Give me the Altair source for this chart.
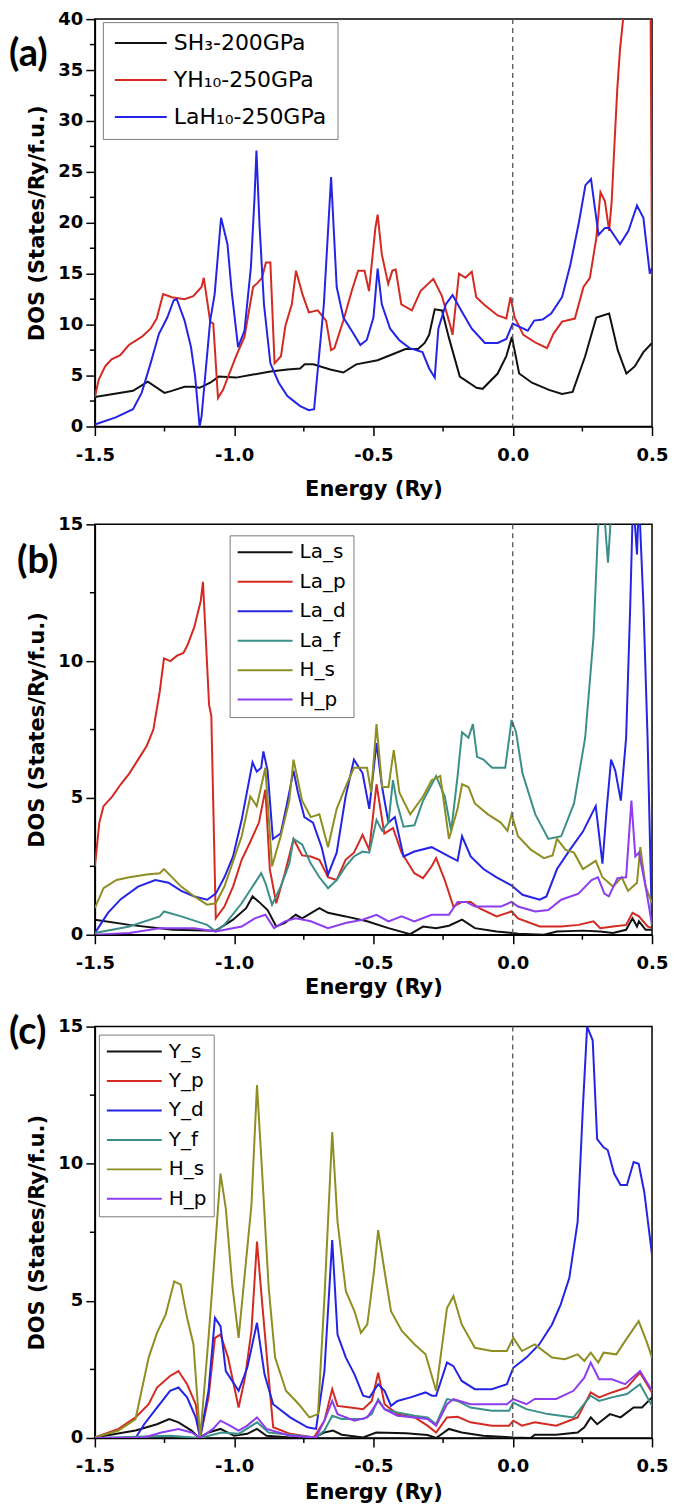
import altair as alt
import pandas as pd

FONT = "DejaVu Sans"

# ---------------- axis ticks ----------------
energy_major = [-1.5, -1.0, -0.5, 0.0, 0.5]
energy_minor = [-1.25, -0.75, -0.25, 0.25]
dos_major_a = [0, 5, 10, 15, 20, 25, 30, 35, 40]
dos_minor_a = [2.5, 7.5, 12.5, 17.5, 22.5, 27.5, 32.5, 37.5]
dos_major_bc = [0, 5, 10, 15]
dos_minor_bc = [2.5, 7.5, 12.5]

# ---------------- panel (a) ----------------
names_a = ["SH\u2083-200GPa", "YH\u2081\u2080-250GPa", "LaH\u2081\u2080-250GPa"]
colors_a = ["#111111", "#d42a22", "#2424e6"]
SH3 = [(-1.5, 2.9), (-1.363, 3.5), (-1.31, 4.4), (-1.25, 3.3), (-1.224, 3.5), (-1.178, 3.9), (-1.147, 3.9),
       (-1.124, 3.8), (-1.086, 4.3), (-1.055, 4.9), (-0.993, 4.8), (-0.932, 5.1), (-0.87, 5.4), (-0.809, 5.6),
       (-0.763, 5.7), (-0.747, 6.1), (-0.716, 6.1), (-0.655, 5.6), (-0.608, 5.3), (-0.562, 6.1), (-0.485, 6.5),
       (-0.44, 7.0), (-0.385, 7.6), (-0.34, 7.6), (-0.316, 8.2), (-0.30, 9.0), (-0.28, 11.5), (-0.254, 11.4),
       (-0.23, 8.8), (-0.19, 4.9), (-0.13, 3.8), (-0.108, 3.7), (-0.054, 5.2), (-0.023, 6.9), (-0.003, 8.8),
       (0.023, 5.2), (0.069, 4.3), (0.13, 3.6), (0.177, 3.2), (0.215, 3.4), (0.26, 6.9), (0.30, 10.7),
       (0.346, 11.1), (0.377, 7.5), (0.408, 5.2), (0.438, 5.9), (0.469, 7.3), (0.5, 8.2)]
YH10 = [(-1.5, 2.9), (-1.486, 4.6), (-1.463, 5.9), (-1.44, 6.6), (-1.409, 7.0), (-1.378, 8.0), (-1.332, 8.8),
        (-1.30, 9.6), (-1.278, 10.6), (-1.255, 13.0), (-1.224, 12.7), (-1.178, 12.5), (-1.147, 12.8),
        (-1.117, 13.7), (-1.109, 14.6), (-1.086, 10.3), (-1.075, 10.1), (-1.058, 2.8), (-1.04, 3.6),
        (-0.993, 6.9), (-0.963, 8.8), (-0.932, 13.7), (-0.916, 14.1), (-0.90, 14.6), (-0.886, 16.1),
        (-0.87, 16.1), (-0.855, 6.2), (-0.832, 6.9), (-0.816, 9.9), (-0.793, 12.0), (-0.778, 15.3),
        (-0.755, 13.0), (-0.732, 11.2), (-0.70, 11.4), (-0.67, 10.4), (-0.652, 7.5), (-0.64, 7.7),
        (-0.608, 10.4), (-0.578, 13.3), (-0.555, 15.3), (-0.532, 15.3), (-0.516, 13.3), (-0.493, 19.5),
        (-0.485, 20.8), (-0.47, 16.9), (-0.447, 14.0), (-0.432, 15.3), (-0.42, 15.4), (-0.40, 12.0),
        (-0.362, 11.4), (-0.331, 13.3), (-0.285, 14.5), (-0.254, 12.8), (-0.224, 9.9), (-0.216, 9.0),
        (-0.193, 15.0), (-0.17, 14.6), (-0.147, 15.2), (-0.131, 12.7), (-0.10, 11.9), (-0.054, 10.9),
        (-0.023, 10.6), (-0.008, 12.7), (0.007, 10.7), (0.038, 9.0), (0.084, 8.2), (0.123, 7.7),
        (0.146, 9.1), (0.177, 10.3), (0.223, 10.6), (0.254, 13.7), (0.277, 14.6), (0.30, 18.5),
        (0.315, 23.0), (0.331, 22.1), (0.346, 19.2), (0.355, 22.0), (0.362, 26.0), (0.375, 33.0),
        (0.385, 37.0), (0.40, 41.0), (0.45, 45.0), (0.494, 45.0), (0.5, 14.7)]
LaH10 = [(-1.5, 0.2), (-1.425, 0.9), (-1.363, 1.7), (-1.332, 3.3), (-1.30, 6.2), (-1.27, 9.1), (-1.24, 10.7),
         (-1.217, 12.4), (-1.206, 12.5), (-1.178, 10.4), (-1.155, 7.8), (-1.14, 4.9), (-1.124, 0.0),
         (-1.117, 1.0), (-1.086, 10.4), (-1.07, 13.0), (-1.047, 20.5), (-1.024, 17.9), (-1.009, 13.3),
         (-0.986, 7.8), (-0.963, 9.4), (-0.94, 15.6), (-0.927, 22.4), (-0.92, 27.1), (-0.909, 19.8),
         (-0.893, 12.0), (-0.87, 6.2), (-0.84, 4.3), (-0.809, 3.0), (-0.763, 2.0), (-0.732, 1.6),
         (-0.713, 1.7), (-0.678, 12.0), (-0.652, 24.5), (-0.632, 13.7), (-0.608, 10.7), (-0.578, 9.4),
         (-0.547, 8.0), (-0.524, 8.5), (-0.50, 10.7), (-0.485, 15.5), (-0.47, 12.0), (-0.44, 9.6),
         (-0.408, 8.5), (-0.37, 7.7), (-0.324, 7.3), (-0.30, 5.7), (-0.28, 4.8), (-0.267, 9.6),
         (-0.24, 12.0), (-0.216, 12.9), (-0.185, 11.4), (-0.147, 9.6), (-0.10, 8.2), (-0.054, 8.2),
         (-0.023, 8.6), (0.0, 10.1), (0.023, 9.8), (0.054, 9.4), (0.077, 10.4), (0.107, 10.5),
         (0.138, 11.1), (0.177, 12.7), (0.207, 15.9), (0.238, 20.1), (0.261, 23.7), (0.281, 24.3),
         (0.308, 18.8), (0.331, 19.5), (0.346, 19.5), (0.385, 17.9), (0.415, 19.2), (0.446, 21.7),
         (0.469, 20.5), (0.492, 15.0), (0.5, 15.6)]

# ---------------- panel (b) ----------------
names_b = ["La_s", "La_p", "La_d", "La_f", "H_s", "H_p"]
colors_pdos = ["#111111", "#d42a22", "#2424e6", "#3a9088", "#8e8e22", "#8d3cf0"]
La_s = [(-1.5, 0.55), (-1.376, 0.36), (-1.221, 0.18), (-1.066, 0.15), (-1.004, 0.55), (-0.957, 0.97),
        (-0.934, 1.4), (-0.911, 1.2), (-0.88, 0.9), (-0.849, 0.3), (-0.818, 0.43), (-0.779, 0.73),
        (-0.756, 0.6), (-0.694, 0.97), (-0.663, 0.8), (-0.60, 0.67), (-0.523, 0.49), (-0.446, 0.24),
        (-0.368, 0.02), (-0.322, 0.3), (-0.275, 0.24), (-0.229, 0.33), (-0.182, 0.55), (-0.136, 0.24),
        (-0.058, 0.12), (0.019, 0.04), (0.112, 0.0), (0.159, 0.12), (0.252, 0.15), (0.314, 0.12),
        (0.36, 0.06), (0.407, 0.18), (0.43, 0.6), (0.446, 0.3), (0.453, 0.49), (0.477, 0.18), (0.5, 0.18)]
La_p = [(-1.5, 2.5), (-1.484, 4.1), (-1.469, 4.7), (-1.438, 5.05), (-1.407, 5.5), (-1.376, 5.9),
        (-1.345, 6.4), (-1.314, 6.9), (-1.29, 7.5), (-1.267, 8.9), (-1.252, 10.1), (-1.229, 10.0),
        (-1.205, 10.2), (-1.182, 10.3), (-1.167, 10.6), (-1.143, 11.25), (-1.12, 12.2), (-1.112, 12.9),
        (-1.09, 8.4), (-1.082, 8.0), (-1.066, 0.6), (-1.035, 1.03), (-1.004, 1.76), (-0.973, 2.74),
        (-0.942, 3.4), (-0.911, 4.1), (-0.888, 5.3), (-0.872, 2.4), (-0.849, 1.15), (-0.818, 2.25),
        (-0.787, 3.5), (-0.756, 2.9), (-0.725, 2.86), (-0.694, 2.74), (-0.663, 2.1), (-0.632, 2.0),
        (-0.60, 2.74), (-0.57, 3.0), (-0.539, 3.65), (-0.515, 3.1), (-0.489, 5.5), (-0.461, 3.7),
        (-0.43, 3.9), (-0.399, 3.0), (-0.353, 2.25), (-0.322, 2.07), (-0.291, 2.5), (-0.275, 2.8),
        (-0.244, 2.0), (-0.213, 1.03), (-0.182, 1.2), (-0.151, 1.2), (-0.12, 0.97), (-0.058, 0.67),
        (-0.004, 0.85), (0.019, 0.6), (0.097, 0.3), (0.174, 0.3), (0.236, 0.36), (0.29, 0.49),
        (0.314, 0.24), (0.36, 0.3), (0.407, 0.36), (0.43, 0.8), (0.453, 0.67), (0.484, 0.3), (0.5, 0.24)]
La_d = [(-1.5, 0.06), (-1.453, 0.8), (-1.407, 1.3), (-1.345, 1.76), (-1.283, 2.0), (-1.236, 1.9),
        (-1.19, 1.6), (-1.143, 1.4), (-1.097, 1.28), (-1.066, 1.5), (-1.035, 2.1), (-1.004, 2.86),
        (-0.973, 4.2), (-0.934, 6.3), (-0.919, 5.96), (-0.903, 6.1), (-0.895, 6.7), (-0.88, 6.0),
        (-0.861, 3.5), (-0.833, 3.7), (-0.81, 4.8), (-0.787, 6.0), (-0.771, 5.2), (-0.748, 4.3),
        (-0.717, 4.1), (-0.686, 3.2), (-0.663, 2.2), (-0.632, 3.0), (-0.60, 5.05), (-0.57, 6.4),
        (-0.539, 5.9), (-0.515, 4.6), (-0.489, 7.0), (-0.469, 5.4), (-0.446, 4.1), (-0.423, 4.3),
        (-0.392, 2.86), (-0.353, 3.04), (-0.291, 3.2), (-0.229, 2.86), (-0.198, 2.7), (-0.182, 3.6),
        (-0.151, 2.86), (-0.105, 2.4), (-0.058, 2.1), (-0.004, 1.8), (0.035, 1.46), (0.097, 1.28),
        (0.121, 1.4), (0.159, 2.4), (0.205, 3.1), (0.252, 3.77), (0.283, 4.4), (0.298, 4.7),
        (0.322, 2.6), (0.337, 4.56), (0.353, 6.4), (0.368, 6.0), (0.388, 4.9), (0.407, 7.2),
        (0.422, 12.1), (0.432, 16.0), (0.446, 13.9), (0.453, 16.0), (0.469, 12.1), (0.484, 7.2), (0.5, 0.18)]
La_f = [(-1.5, 0.06), (-1.376, 0.3), (-1.267, 0.67), (-1.252, 0.85), (-1.19, 0.67), (-1.097, 0.36),
        (-1.066, 0.12), (-1.035, 0.36), (-0.973, 1.15), (-0.934, 1.76), (-0.903, 2.25), (-0.888, 1.9),
        (-0.864, 1.1), (-0.833, 1.76), (-0.802, 2.6), (-0.787, 3.5), (-0.756, 3.3), (-0.725, 2.6),
        (-0.694, 2.1), (-0.663, 1.7), (-0.632, 2.0), (-0.60, 2.5), (-0.57, 2.86), (-0.539, 3.04),
        (-0.515, 3.0), (-0.489, 4.2), (-0.469, 3.8), (-0.446, 4.1), (-0.43, 5.65), (-0.415, 4.8),
        (-0.392, 3.95), (-0.353, 4.0), (-0.322, 4.9), (-0.275, 5.8), (-0.244, 5.05), (-0.221, 3.8),
        (-0.198, 5.8), (-0.182, 7.4), (-0.159, 7.2), (-0.143, 7.7), (-0.128, 6.5), (-0.105, 6.4),
        (-0.074, 6.1), (-0.027, 6.1), (-0.004, 7.85), (0.012, 7.4), (0.035, 5.9), (0.081, 4.4),
        (0.128, 3.5), (0.174, 3.6), (0.22, 4.8), (0.26, 7.2), (0.29, 10.9), (0.306, 14.8),
        (0.322, 16.5), (0.335, 14.5), (0.342, 13.6), (0.36, 16.5), (0.5, 17.0)]
H_s_b = [(-1.5, 0.97), (-1.469, 1.7), (-1.422, 2.0), (-1.376, 2.1), (-1.314, 2.2), (-1.267, 2.25),
         (-1.252, 2.4), (-1.19, 1.76), (-1.143, 1.4), (-1.097, 1.1), (-1.066, 1.15), (-1.035, 1.76),
         (-0.973, 3.6), (-0.942, 5.05), (-0.919, 4.7), (-0.888, 6.1), (-0.864, 2.5), (-0.833, 3.6),
         (-0.802, 4.9), (-0.787, 6.4), (-0.756, 4.9), (-0.725, 4.3), (-0.694, 4.4), (-0.663, 3.2),
         (-0.632, 4.6), (-0.60, 5.4), (-0.57, 6.1), (-0.523, 6.1), (-0.508, 5.2), (-0.489, 7.7),
         (-0.469, 5.4), (-0.446, 5.4), (-0.427, 6.75), (-0.407, 5.2), (-0.368, 4.4), (-0.322, 5.05),
         (-0.291, 5.65), (-0.26, 5.8), (-0.229, 3.5), (-0.198, 4.6), (-0.182, 5.5), (-0.159, 5.4),
         (-0.136, 4.8), (-0.089, 4.4), (-0.043, 4.1), (-0.019, 3.8), (-0.004, 4.4), (0.019, 3.6),
         (0.066, 3.1), (0.112, 2.8), (0.143, 2.9), (0.159, 3.5), (0.19, 3.1), (0.22, 3.0), (0.252, 2.4),
         (0.298, 2.7), (0.322, 2.1), (0.36, 1.76), (0.391, 2.1), (0.414, 1.6), (0.446, 1.9),
         (0.458, 3.2), (0.477, 1.76), (0.5, 1.15)]
H_p_b = [(-1.5, 0.0), (-1.376, 0.06), (-1.267, 0.24), (-1.143, 0.24), (-1.066, 0.12), (-0.973, 0.3),
         (-0.926, 0.6), (-0.888, 0.73), (-0.857, 0.24), (-0.818, 0.49), (-0.779, 0.6), (-0.725, 0.49),
         (-0.663, 0.24), (-0.60, 0.43), (-0.539, 0.55), (-0.489, 0.73), (-0.446, 0.49), (-0.399, 0.67),
         (-0.353, 0.49), (-0.291, 0.73), (-0.229, 0.73), (-0.198, 1.2), (-0.167, 1.2), (-0.136, 1.03),
         (-0.089, 1.03), (-0.043, 1.03), (-0.004, 1.2), (0.019, 1.03), (0.081, 0.85), (0.128, 0.9),
         (0.174, 1.28), (0.236, 1.5), (0.283, 2.0), (0.306, 2.1), (0.329, 1.5), (0.345, 1.4),
         (0.376, 2.07), (0.407, 2.1), (0.426, 4.9), (0.44, 2.86), (0.453, 3.0), (0.477, 1.76), (0.5, 0.36)]

# ---------------- panel (c) ----------------
names_c = ["Y_s", "Y_p", "Y_d", "Y_f", "H_s", "H_p"]
Y_s = [(-1.5, 0.02), (-1.354, 0.27), (-1.277, 0.5), (-1.233, 0.69), (-1.2, 0.57), (-1.153, 0.27),
       (-1.126, 0.0), (-1.092, 0.2), (-1.049, 0.33), (-1.0, 0.08), (-0.953, 0.15), (-0.918, 0.33),
       (-0.884, 0.08), (-0.799, 0.02), (-0.714, 0.0), (-0.676, 0.2), (-0.645, 0.27), (-0.614, 0.12),
       (-0.537, 0.02), (-0.49, 0.2), (-0.383, 0.17), (-0.306, 0.11), (-0.275, 0.0), (-0.229, 0.33),
       (-0.183, 0.2), (-0.106, 0.08), (0.002, 0.02), (0.064, 0.0), (0.079, 0.12), (0.156, 0.12),
       (0.233, 0.2), (0.257, 0.39), (0.28, 0.75), (0.303, 0.5), (0.349, 0.87), (0.387, 0.75),
       (0.434, 1.11), (0.464, 1.11), (0.5, 1.48)]
Y_p = [(-1.5, 0.02), (-1.415, 0.33), (-1.354, 0.75), (-1.307, 1.23), (-1.277, 1.84), (-1.23, 2.26),
       (-1.2, 2.44), (-1.169, 1.96), (-1.138, 1.23), (-1.122, 0.02), (-1.092, 1.48), (-1.069, 3.65),
       (-1.049, 3.77), (-1.022, 2.93), (-0.984, 1.11), (-0.961, 2.2), (-0.938, 3.9), (-0.918, 7.16),
       (-0.899, 4.86), (-0.876, 2.2), (-0.86, 0.39), (-0.799, 0.15), (-0.714, 0.02), (-0.676, 0.63),
       (-0.648, 1.78), (-0.629, 1.17), (-0.583, 1.11), (-0.537, 1.05), (-0.506, 1.35), (-0.483, 2.38),
       (-0.46, 1.23), (-0.414, 0.87), (-0.352, 0.75), (-0.306, 0.45), (-0.275, 0.2), (-0.236, 0.75),
       (-0.198, 0.77), (-0.152, 0.57), (-0.075, 0.45), (-0.013, 0.45), (0.002, 0.63), (0.033, 0.45),
       (0.079, 0.57), (0.156, 0.45), (0.233, 0.75), (0.28, 1.66), (0.31, 1.48), (0.356, 1.66),
       (0.41, 1.84), (0.457, 2.38), (0.5, 1.66)]
Y_d = [(-1.5, 0.0), (-1.354, 0.0), (-1.323, 0.5), (-1.277, 1.11), (-1.23, 1.72), (-1.2, 1.84),
       (-1.169, 1.48), (-1.138, 0.75), (-1.122, 0.0), (-1.092, 1.72), (-1.069, 4.38), (-1.049, 4.08),
       (-1.03, 2.44), (-0.984, 1.72), (-0.953, 2.56), (-0.918, 4.2), (-0.891, 2.32), (-0.86, 1.23),
       (-0.799, 0.75), (-0.737, 0.39), (-0.706, 0.33), (-0.676, 2.44), (-0.648, 7.22), (-0.629, 3.77),
       (-0.599, 2.93), (-0.568, 2.32), (-0.537, 1.54), (-0.514, 1.48), (-0.483, 1.96), (-0.46, 1.72),
       (-0.437, 1.17), (-0.414, 1.35), (-0.367, 1.48), (-0.313, 1.66), (-0.29, 1.54), (-0.275, 1.54),
       (-0.236, 2.75), (-0.213, 2.62), (-0.183, 2.08), (-0.136, 1.78), (-0.075, 1.78), (-0.021, 1.96),
       (0.002, 2.56), (0.049, 2.93), (0.095, 3.41), (0.141, 4.14), (0.172, 4.86), (0.203, 5.83),
       (0.233, 7.89), (0.252, 12.1), (0.267, 15.0), (0.287, 14.5), (0.303, 10.9), (0.326, 10.6),
       (0.341, 10.5), (0.364, 9.64), (0.387, 9.22), (0.41, 9.22), (0.434, 10.06), (0.452, 10.0),
       (0.472, 8.98), (0.5, 6.68)]
Y_f = [(-1.5, 0.0), (-1.23, 0.08), (-1.122, 0.0), (-1.045, 0.2), (-0.984, 0.15), (-0.918, 0.57),
       (-0.876, 0.2), (-0.768, 0.08), (-0.706, 0.02), (-0.676, 0.27), (-0.648, 0.81), (-0.614, 0.69),
       (-0.537, 0.69), (-0.506, 0.87), (-0.483, 1.42), (-0.46, 1.05), (-0.414, 0.93), (-0.352, 0.81),
       (-0.306, 0.75), (-0.275, 0.5), (-0.236, 1.42), (-0.198, 1.35), (-0.152, 1.11), (-0.075, 0.99),
       (-0.013, 0.99), (0.002, 1.29), (0.049, 1.05), (0.126, 0.87), (0.218, 0.75), (0.28, 1.54),
       (0.31, 1.35), (0.356, 1.48), (0.41, 1.6), (0.457, 1.96), (0.5, 1.17)]
H_s_c = [(-1.5, 0.02), (-1.415, 0.27), (-1.354, 0.69), (-1.307, 2.93), (-1.277, 3.83), (-1.246, 4.5),
         (-1.215, 5.71), (-1.192, 5.59), (-1.169, 4.38), (-1.146, 3.41), (-1.122, 0.0), (-1.092, 3.65),
         (-1.076, 5.83), (-1.049, 9.64), (-1.03, 8.37), (-1.007, 5.59), (-0.984, 3.65), (-0.961, 6.07),
         (-0.938, 8.49), (-0.918, 12.87), (-0.899, 9.58), (-0.876, 5.47), (-0.853, 2.93), (-0.814, 1.72),
         (-0.768, 1.23), (-0.73, 0.75), (-0.699, 0.87), (-0.676, 5.1), (-0.648, 11.15), (-0.629, 7.89),
         (-0.599, 5.35), (-0.568, 4.62), (-0.545, 3.83), (-0.522, 4.14), (-0.498, 6.07), (-0.483, 7.58),
         (-0.46, 6.07), (-0.437, 4.62), (-0.398, 3.9), (-0.352, 3.41), (-0.313, 3.05), (-0.275, 1.72),
         (-0.236, 4.74), (-0.213, 5.17), (-0.183, 4.14), (-0.136, 3.29), (-0.075, 3.17), (-0.021, 3.17),
         (0.002, 3.65), (0.033, 3.17), (0.079, 3.41), (0.141, 2.93), (0.187, 2.87), (0.233, 3.05),
         (0.257, 2.81), (0.28, 3.11), (0.307, 2.75), (0.326, 3.11), (0.372, 3.05), (0.403, 3.53),
         (0.452, 4.26), (0.48, 3.53), (0.5, 2.93)]
H_p_c = [(-1.5, 0.0), (-1.323, 0.02), (-1.261, 0.2), (-1.2, 0.33), (-1.153, 0.2), (-1.122, 0.0),
         (-1.076, 0.33), (-1.049, 0.63), (-1.015, 0.45), (-0.984, 0.27), (-0.953, 0.45), (-0.918, 0.75),
         (-0.884, 0.33), (-0.799, 0.08), (-0.706, 0.02), (-0.676, 0.63), (-0.648, 1.35), (-0.629, 0.87),
         (-0.568, 0.63), (-0.522, 0.75), (-0.483, 1.35), (-0.46, 1.05), (-0.414, 0.81), (-0.352, 0.75),
         (-0.306, 0.69), (-0.275, 0.45), (-0.236, 1.23), (-0.213, 1.42), (-0.152, 1.23), (-0.075, 1.23),
         (-0.021, 1.23), (0.002, 1.42), (0.049, 1.23), (0.079, 1.42), (0.156, 1.42), (0.218, 1.72),
         (0.257, 2.2), (0.28, 2.75), (0.31, 2.14), (0.356, 2.14), (0.403, 1.96), (0.457, 2.44), (0.5, 1.72)]

WIDTH = 558


def to_frame(names, series_list):
    rows = []
    for name, pts in zip(names, series_list):
        for e, d in pts:
            rows.append({"E": e, "DOS": d, "series": name})
    return pd.DataFrame(rows)


def panel(df, names, colors, ymax, ymajor, yminor, height, tag, tag_x, tag_y,
          leg_x, leg_y, leg_row_pad, leg_pad, sym_len, leg_font, title_pad):
    xscale = alt.Scale(domain=[-1.5, 0.5], nice=False, zero=False)
    yscale = alt.Scale(domain=[0, ymax], nice=False)
    xaxis = alt.Axis(values=energy_major, title="Energy (Ry)", titlePadding=title_pad,
                     labelExpr="replace(format(datum.value, '.1f'), '\u2212', '-')",
                     labelPadding=11, labelFlush=False)
    yaxis = alt.Axis(values=ymajor, format="d", title="DOS (States/Ry/f.u.)",
                     titlePadding=10, labelPadding=3, labelFlush=False)
    X = alt.X("E:Q", scale=xscale, axis=xaxis)
    Y = alt.Y("DOS:Q", scale=yscale, axis=yaxis)
    lines = alt.Chart(df).mark_line(clip=True, strokeWidth=2).encode(
        x=X, y=Y,
        color=alt.Color("series:N", scale=alt.Scale(domain=names, range=colors),
                        legend=alt.Legend(
                            orient="none", legendX=leg_x, legendY=leg_y, title=None,
                            symbolType="stroke", symbolSize=sym_len * sym_len,
                            symbolStrokeWidth=2, labelFont=FONT, labelFontSize=leg_font,
                            labelColor="black", rowPadding=leg_row_pad, padding=leg_pad,
                            strokeColor="#7a7a7a", fillColor="white", clipHeight=20,
                            labelOffset=6, labelLimit=400)),
        detail="series:N",
    )
    zero_line = alt.Chart(pd.DataFrame({"E": [0.0]})).mark_rule(
        strokeDash=[5, 4], color="#555555", strokeWidth=1.3
    ).encode(x=X)
    minor_x = alt.Chart(pd.DataFrame({"E": energy_minor})).mark_rule(
        color="black", strokeWidth=1.5
    ).encode(x=X, y=alt.value(height), y2=alt.value(height + 5))
    minor_y = alt.Chart(pd.DataFrame({"DOS": yminor})).mark_rule(
        color="black", strokeWidth=1.5
    ).encode(y=Y, x=alt.value(-5), x2=alt.value(0))
    label = alt.Chart(pd.DataFrame({"t": [tag]})).mark_text(
        font="Lato", fontWeight="bold", fontSize=38, align="left", baseline="middle",
        color="black"
    ).encode(text="t:N", x=alt.value(tag_x), y=alt.value(tag_y))
    return alt.layer(lines, zero_line, minor_x, minor_y, label).properties(
        width=WIDTH, height=height)


df_a = to_frame(names_a, [SH3, YH10, LaH10])
df_b = to_frame(names_b, [La_s, La_p, La_d, La_f, H_s_b, H_p_b])
df_c = to_frame(names_c, [Y_s, Y_p, Y_d, Y_f, H_s_c, H_p_c])

pa = panel(df_a, names_a, colors_a, 40, dos_major_a, dos_minor_a, 408, "(a)", -86, 36,
           8, 3, 15, 11, 52, 22, 14)
pb = panel(df_b, names_b, colors_pdos, 15, dos_major_bc, dos_minor_bc, 411, "(b)", -78, 38,
           135, 11, 9.5, 7, 55, 20, 4)
pc = panel(df_c, names_c, colors_pdos, 15, dos_major_bc, dos_minor_bc, 412, "(c)", -86, 6,
           4, 8, 9.5, 7, 55, 20, 6)

chart = alt.vconcat(pa, pb, pc, spacing=14).resolve_scale(
    color="independent"
).properties(
    padding={"left": 0, "top": 0, "right": 0, "bottom": 0}
).configure_view(
    stroke="black", strokeWidth=1.5
).configure_axis(
    labelFont=FONT, labelFontWeight="bold", labelFontSize=18, labelColor="black",
    titleFont=FONT, titleFontWeight="bold", titleFontSize=21, titleColor="black",
    tickColor="black", domainColor="black", tickWidth=1.5, domainWidth=1.5,
    tickSize=9, grid=False
)

chart.save("out.html", embed_options={"renderer": "svg", "actions": False})
